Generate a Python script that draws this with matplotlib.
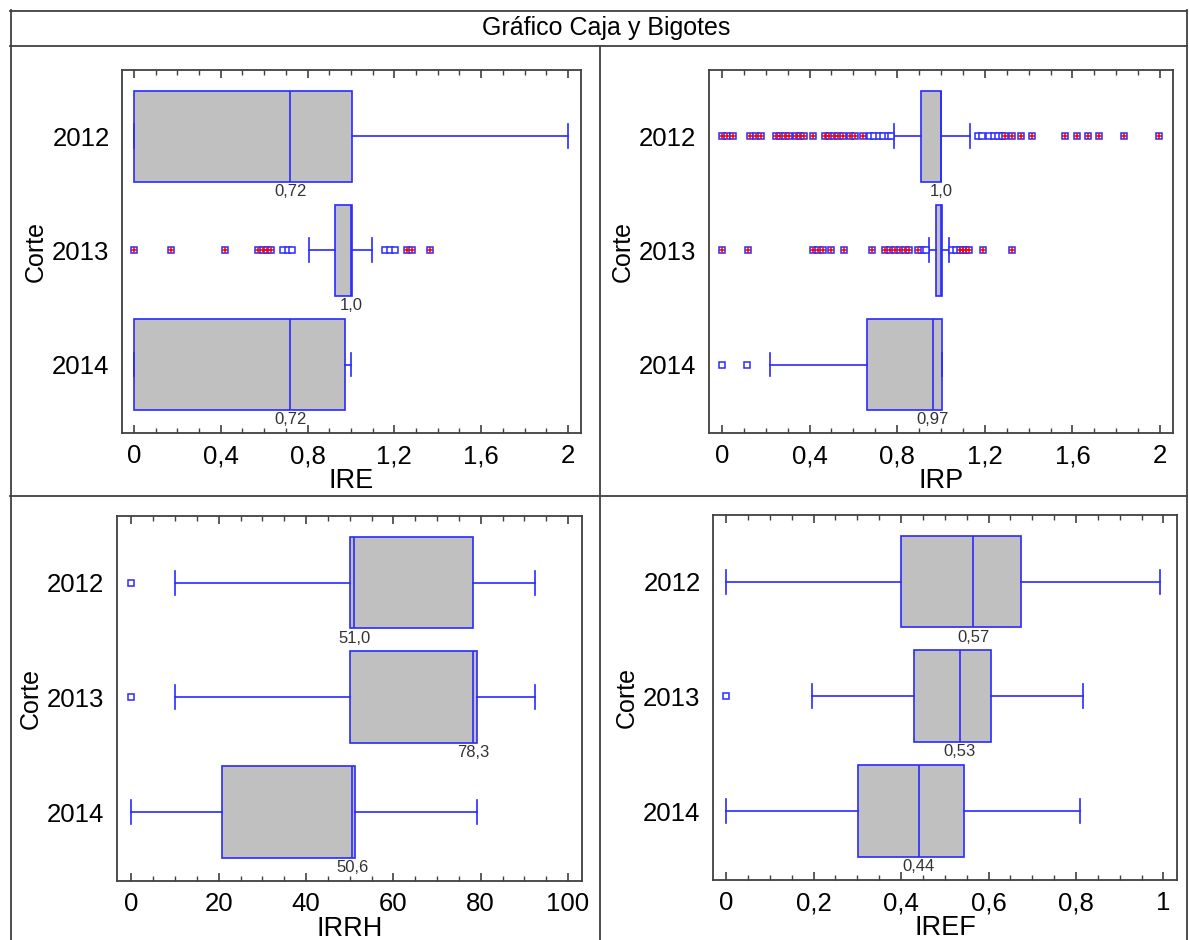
import matplotlib
matplotlib.use("Agg")
import matplotlib.pyplot as plt
from matplotlib.lines import Line2D
from matplotlib.ticker import MultipleLocator

plt.rcParams["font.family"] = ["Liberation Sans", "DejaVu Sans"]

years = ["2012", "2013", "2014"]

# IRE (arriba izquierda)
ire_lo = [0.0, 0.805, 0.0]
ire_q1 = [0.0, 0.925, 0.0]
ire_med = [0.72, 1.0, 0.72]
ire_q3 = [1.005, 1.005, 0.972]
ire_hi = [2.0, 1.098, 1.0]
ire_out = [[], [0.688, 0.708, 0.729, 1.157, 1.18, 1.203], []]
ire_far = [[], [0.0, 0.17, 0.42, 0.573, 0.593, 0.611, 0.63, 1.26, 1.283, 1.364], []]
ire_lab = ["0,72", "1,0", "0,72"]
ire_ticks = [0, 0.4, 0.8, 1.2, 1.6, 2.0]
ire_ticklabels = ["0", "0,4", "0,8", "1,2", "1,6", "2"]

# IRP (arriba derecha)
irp_lo = [0.784, 0.945, 0.219]
irp_q1 = [0.907, 0.975, 0.66]
irp_med = [1.0, 1.0, 0.962]
irp_q3 = [1.002, 1.005, 1.003]
irp_hi = [1.134, 1.038, 1.003]
irp_out = [
    [0.676, 0.696, 0.717, 0.737, 0.758, 0.773, 1.168, 1.185, 1.22, 1.24, 1.26, 1.28],
    [0.912, 0.93, 1.05, 1.07],
    [0.0, 0.114],
]
irp_far = [
    [0.0, 0.025, 0.05, 0.13, 0.155, 0.18, 0.246, 0.267, 0.288, 0.305, 0.338, 0.357,
     0.376, 0.418, 0.469, 0.49, 0.51, 0.53, 0.552, 0.585, 0.607, 0.645, 1.293, 1.325,
     1.365, 1.414, 1.566, 1.62, 1.671, 1.723, 1.834, 1.997],
    [0.0, 0.117, 0.417, 0.44, 0.463, 0.498, 0.558, 0.683, 0.744, 0.767, 0.79, 0.813,
     0.836, 0.855, 0.896, 1.085, 1.1, 1.115, 1.13, 1.193, 1.326],
    [],
]
irp_lab = ["1,0", None, "0,97"]
irp_ticks = [0, 0.4, 0.8, 1.2, 1.6, 2.0]
irp_ticklabels = ["0", "0,4", "0,8", "1,2", "1,6", "2"]

# IRRH (abajo izquierda)
irrh_lo = [10.0, 10.0, 0.0]
irrh_q1 = [50.1, 50.1, 20.8]
irrh_med = [51.0, 78.3, 50.6]
irrh_q3 = [78.2, 79.1, 51.1]
irrh_hi = [92.5, 92.5, 79.2]
irrh_out = [[0.0], [0.0], []]
irrh_far = [[], [], []]
irrh_lab = ["51,0", "78,3", "50,6"]
irrh_ticks = [0, 20, 40, 60, 80, 100]
irrh_ticklabels = ["0", "20", "40", "60", "80", "100"]

# IREF (abajo derecha)
iref_lo = [0.0, 0.197, 0.0]
iref_q1 = [0.3995, 0.43, 0.302]
iref_med = [0.565, 0.534, 0.44]
iref_q3 = [0.674, 0.605, 0.544]
iref_hi = [0.991, 0.816, 0.81]
iref_out = [[], [0.0], []]
iref_far = [[], [], []]
iref_lab = ["0,57", "0,53", "0,44"]
iref_ticks = [0, 0.2, 0.4, 0.6, 0.8, 1.0]
iref_ticklabels = ["0", "0,2", "0,4", "0,6", "0,8", "1"]

W, H = 1189, 940
blue = "#2a2aff"
frame = "#404040"

fig = plt.figure(figsize=(W / 100, H / 100), dpi=100)


def px_axes(left, right, top, bottom):
    return fig.add_axes([left / W, 1 - bottom / H, (right - left) / W, (bottom - top) / H])


def panel(ax, lo, q1, med, q3, hi, out, far, labels, ticks, ticklabels, minor, xlim, xlabel):
    pos = [1, 2, 3]
    stats = []
    for i in range(3):
        stats.append(dict(whislo=lo[i], q1=q1[i], med=med[i], q3=q3[i], whishi=hi[i], fliers=[]))
    ax.bxp(stats, positions=pos, orientation="horizontal", widths=0.8, capwidths=0.21,
           patch_artist=True, showfliers=False,
           boxprops=dict(facecolor="#c0c0c0", edgecolor=blue, linewidth=1.2),
           whiskerprops=dict(color=blue, linewidth=1.2),
           capprops=dict(color=blue, linewidth=1.2),
           medianprops=dict(color=blue, linewidth=1.2))
    for i in range(3):
        if out[i]:
            ax.plot(out[i], [pos[i]] * len(out[i]), "s", ms=4.8, mfc="white", mec=blue, mew=1.1)
        if far[i]:
            ax.plot(far[i], [pos[i]] * len(far[i]), "s", ms=4.8, mfc="white", mec=blue, mew=1.1)
            ax.plot(far[i], [pos[i]] * len(far[i]), "+", ms=4, color="red", mew=1.1)
        if labels[i]:
            ax.annotate(labels[i], (med[i], pos[i] + 0.4), xytext=(0, -1.5),
                        textcoords="offset points", ha="center", va="top",
                        fontsize=12, color="#333333")
    ax.set_xlim(xlim)
    ax.set_ylim(3.6, 0.42)
    ax.set_xticks(ticks, ticklabels)
    ax.xaxis.set_minor_locator(MultipleLocator(minor))
    ax.set_yticks(pos, years)
    ax.tick_params(axis="x", which="both", direction="in", top=True, bottom=True,
                   color=frame, labelsize=18.5, pad=8)
    ax.tick_params(axis="x", which="major", length=6, width=1.2)
    ax.tick_params(axis="x", which="minor", length=3.5, width=1)
    ax.tick_params(axis="y", length=0, labelsize=18.5, pad=9)
    for s in ax.spines.values():
        s.set_color(frame)
        s.set_linewidth(1.3)
    ax.set_xlabel(xlabel, fontsize=19.5, labelpad=0)
    ax.set_ylabel("Corte", fontsize=18, labelpad=3)


ax1 = px_axes(122, 581, 70, 433)
panel(ax1, ire_lo, ire_q1, ire_med, ire_q3, ire_hi, ire_out, ire_far, ire_lab,
      ire_ticks, ire_ticklabels, 0.1, (-0.055, 2.06), "IRE")

ax2 = px_axes(709, 1173, 70, 433)
panel(ax2, irp_lo, irp_q1, irp_med, irp_q3, irp_hi, irp_out, irp_far, irp_lab,
      irp_ticks, irp_ticklabels, 0.1, (-0.059, 2.059), "IRP")

ax3 = px_axes(117, 582, 516, 881)
panel(ax3, irrh_lo, irrh_q1, irrh_med, irrh_q3, irrh_hi, irrh_out, irrh_far, irrh_lab,
      irrh_ticks, irrh_ticklabels, 5, (-3.3, 103.2), "IRRH")

ax4 = px_axes(713, 1177, 515, 880)
panel(ax4, iref_lo, iref_q1, iref_med, iref_q3, iref_hi, iref_out, iref_far, iref_lab,
      iref_ticks, iref_ticklabels, 0.05, (-0.03, 1.031), "IREF")


# bordes de la tabla
def px_line(x0, y0, x1, y1):
    fig.add_artist(Line2D([x0 / W, x1 / W], [1 - y0 / H, 1 - y1 / H],
                          transform=fig.transFigure, color=frame, linewidth=1.3))


px_line(10, 10.5, 1187, 10.5)
px_line(10, 46, 1187, 46)
px_line(10, 496, 1187, 496)
px_line(10.5, 10, 10.5, 940)
px_line(1187, 10, 1187, 940)
px_line(600, 46, 600, 940)

fig.text(606 / W, 1 - 28 / H, "Gráfico Caja y Bigotes", ha="center", va="center", fontsize=18)

fig.savefig("out.png", dpi=100)
